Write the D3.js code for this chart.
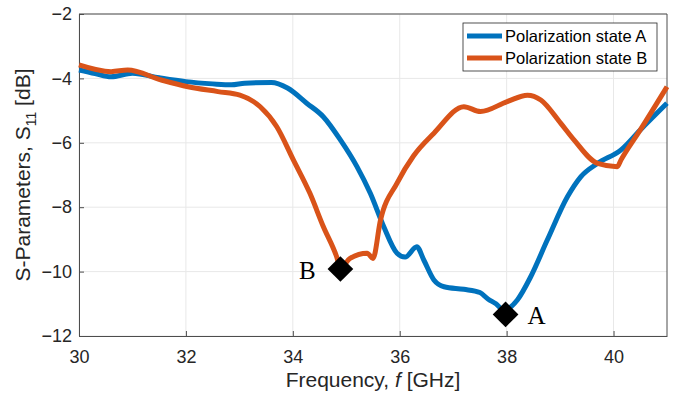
<!DOCTYPE html>
<meta charset="utf-8">
<script src="https://d3js.org/d3.v7.min.js"></script>
<style>
  body { margin: 0; background: #fff; }
</style>
<div id="chart"></div>
<script>
// polarization state A (blue)
const freqA = [30.0, 30.3, 30.6, 31.0, 31.5, 32.0, 32.5, 32.85, 33.1, 33.6, 33.9, 34.26, 34.57, 34.89,
  35.2, 35.45, 35.7, 35.95, 36.1, 36.32, 36.45, 36.64, 36.83, 37.2, 37.5, 37.65, 37.8, 37.95, 38.2, 38.45, 38.76,
  39.14, 39.39, 39.7, 40.14, 40.5, 41.0];
const s11A = [-3.74, -3.85, -3.95, -3.84, -3.98, -4.10, -4.17, -4.20, -4.15, -4.13, -4.30, -4.77, -5.19, -5.91,
  -6.74, -7.57, -8.6, -9.43, -9.55, -9.23, -9.64, -10.26, -10.47, -10.55, -10.65, -10.85, -11.0, -11.2, -10.88, -10.16, -9.02,
  -7.67, -7.05, -6.64, -6.22, -5.6, -4.77];

// polarization state B (orange)
const freqB = [30.0, 30.6, 30.91, 31.54, 32.04, 32.6, 33.01, 33.39, 33.7, 34.01, 34.32, 34.57, 34.82, 34.89,
  35.07, 35.39, 35.5, 35.64, 35.95, 36.26, 36.64, 37.2, 37.51, 38.01, 38.39, 38.64, 39.01, 39.26,
  39.7, 40.07, 40.14, 40.5, 41.0];
const s11B = [-3.58, -3.79, -3.74, -4.05, -4.26, -4.41, -4.52, -4.88, -5.5, -6.53, -7.57, -8.6, -9.54, -9.89,
  -9.59, -9.43, -9.59, -8.40, -7.25, -6.4, -5.70, -4.88, -5.03, -4.72, -4.52, -4.67, -5.39, -5.91,
  -6.64, -6.74, -6.53, -5.6, -4.26];

// marked minima
const markLabels = ["B", "A"];
const markFreq = [34.89, 37.98];
const markS11 = [-9.92, -11.33];

const xTicks = [30, 32, 34, 36, 38, 40];
const yTicks = [-12, -10, -8, -6, -4, -2];
const seriesNames = ["Polarization state A", "Polarization state B"];
const colors = ["#0072BD", "#D95319"];

const W = 677, H = 393;
const margin = { top: 14, right: 10, bottom: 57, left: 79 };
const width = W - margin.left - margin.right,
      height = H - margin.top - margin.bottom;
const sans = "Liberation Sans, Arial, sans-serif";

const svg = d3.select("#chart").append("svg")
  .attr("width", W).attr("height", H)
  .style("font-family", sans);
const g = svg.append("g")
  .attr("transform", `translate(${margin.left},${margin.top})`);

const x = d3.scaleLinear().domain([30, 41]).range([0, width]);
const y = d3.scaleLinear().domain([-12, -2]).range([height, 0]);

// grid
g.append("g").selectAll("line").data(xTicks).join("line")
  .attr("x1", d => x(d)).attr("x2", d => x(d))
  .attr("y1", 0).attr("y2", height)
  .attr("stroke", "#e8e8e8").attr("stroke-width", 1);
g.append("g").selectAll("line").data(yTicks).join("line")
  .attr("x1", 0).attr("x2", width)
  .attr("y1", d => y(d)).attr("y2", d => y(d))
  .attr("stroke", "#e8e8e8").attr("stroke-width", 1);

// axes
const xAxis = g.append("g")
  .attr("transform", `translate(0,${height})`)
  .call(d3.axisBottom(x).tickValues(xTicks).tickSizeInner(-5).tickSizeOuter(0).tickPadding(14));
const yAxis = g.append("g")
  .call(d3.axisLeft(y).tickValues(yTicks).tickSizeInner(-5).tickSizeOuter(0).tickPadding(7));
[xAxis, yAxis].forEach(a => {
  a.selectAll("path, line").attr("stroke", "#4d4d4d");
  a.selectAll("text").style("font-size", "18px").attr("fill", "#262626")
    .style("font-family", sans);
});
xAxis.selectAll("text").attr("dy", "0.71em");

// box on top/right
g.append("line").attr("x1", 0).attr("x2", width).attr("y1", 0).attr("y2", 0)
  .attr("stroke", "#4d4d4d");
g.append("line").attr("x1", width).attr("x2", width).attr("y1", 0).attr("y2", height)
  .attr("stroke", "#4d4d4d");

// lines
const line = d3.line().x(d => x(d[0])).y(d => y(d[1])).curve(d3.curveMonotoneX);
const dataA = freqA.map((f, i) => [f, s11A[i]]);
const dataB = freqB.map((f, i) => [f, s11B[i]]);
[dataA, dataB].forEach((d, i) => {
  g.append("path").datum(d)
    .attr("fill", "none")
    .attr("stroke", colors[i])
    .attr("stroke-width", 5)
    .attr("stroke-linejoin", "round")
    .attr("d", line);
});

// markers
g.selectAll(".mark").data(markFreq).join("path")
  .attr("class", "mark")
  .attr("d", d3.symbol(d3.symbolSquare, 330))
  .attr("transform", (d, i) => `translate(${x(d)},${y(markS11[i])}) rotate(45)`)
  .attr("fill", "#000");
g.selectAll(".mlab").data(markLabels).join("text")
  .attr("class", "mlab")
  .attr("x", (d, i) => i === 0 ? x(markFreq[i]) - 33 : x(markFreq[i]) + 31)
  .attr("y", (d, i) => y(markS11[i]) + 10)
  .attr("text-anchor", "middle")
  .style("font-family", "Liberation Serif, DejaVu Serif, serif")
  .style("font-size", "25px")
  .attr("fill", "#000")
  .text(d => d);

// legend
const lg = svg.append("g").attr("transform", "translate(463,23)");
lg.append("rect").attr("width", 194).attr("height", 48)
  .attr("fill", "#fff").attr("stroke", "#262626").attr("stroke-width", 0.8);
seriesNames.forEach((name, i) => {
  const yy = 13 + i * 22;
  lg.append("line").attr("x1", 4).attr("x2", 39).attr("y1", yy).attr("y2", yy)
    .attr("stroke", colors[i]).attr("stroke-width", 5);
  lg.append("text").attr("x", 42).attr("y", yy + 6)
    .style("font-size", "16.5px").attr("fill", "#000").text(name);
});

// axis titles
const xt = svg.append("text")
  .attr("x", margin.left + width / 2).attr("y", 387)
  .attr("text-anchor", "middle").style("font-size", "21px").attr("fill", "#262626");
xt.append("tspan").text("Frequency, ");
xt.append("tspan").attr("font-style", "italic").text("f");
xt.append("tspan").text(" [GHz]");

const yt = svg.append("text")
  .attr("transform", `translate(30,${margin.top + height / 2}) rotate(-90)`)
  .attr("text-anchor", "middle").style("font-size", "21px").attr("fill", "#262626");
yt.append("tspan").text("S-Parameters, S");
yt.append("tspan").style("font-size", "14px").attr("dy", 6).text("11");
yt.append("tspan").attr("dy", -6).text(" [dB]");
</script>
